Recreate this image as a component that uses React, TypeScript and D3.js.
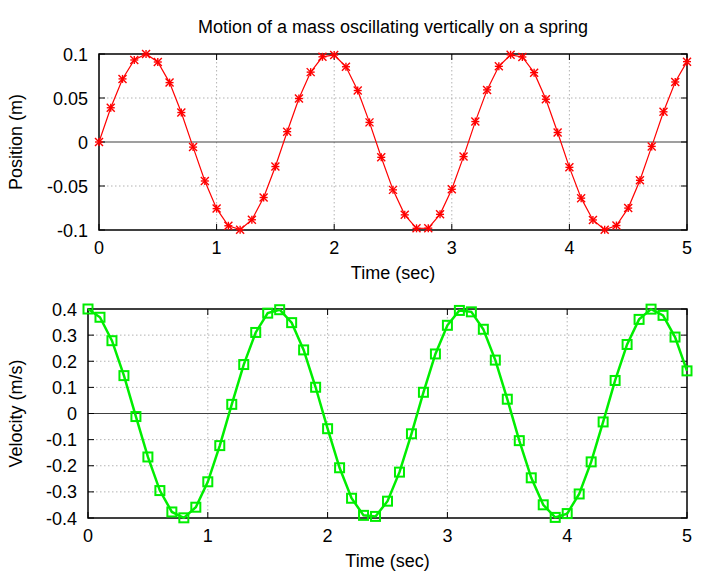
import React from "react";
import * as d3 from "d3";

const times = [0,0.1,0.2,0.3,0.4,0.5,0.6,0.7,0.8,0.9,1,1.1,1.2,1.3,1.4,1.5,1.6,1.7,1.8,1.9,2,2.1,2.2,2.3,2.4,2.5,2.6,2.7,2.8,2.9,3,3.1,3.2,3.3,3.4,3.5,3.6,3.7,3.8,3.9,4,4.1,4.2,4.3,4.4,4.5,4.6,4.7,4.8,4.9,5];
const position = [0,0.0389,0.0717,0.0932,0.1,0.0909,0.0675,0.0335,-0.0058,-0.0443,-0.0757,-0.0952,-0.0996,-0.0884,-0.0631,-0.0279,0.0117,0.0494,0.0794,0.0968,0.0989,0.0855,0.0585,0.0223,-0.0174,-0.0544,-0.0828,-0.0981,-0.0979,-0.0822,-0.0537,-0.0166,0.0232,0.0592,0.086,0.0991,0.0966,0.0788,0.0486,0.0108,-0.0288,-0.0638,-0.0886,-0.0997,-0.0949,-0.0751,-0.0435,-0.005,0.0343,0.0682,0.0913];
const velocity = [0.4,0.3684,0.2787,0.145,-0.0117,-0.1664,-0.295,-0.3769,-0.3993,-0.3587,-0.2614,-0.1229,0.035,0.1874,0.3102,0.3841,0.3973,0.3478,0.2434,0.1005,-0.0582,-0.2077,-0.3244,-0.3899,-0.3939,-0.3356,-0.2244,-0.0777,0.0812,0.2279,0.3376,0.3945,0.3891,0.3224,0.2044,0.0547,-0.1039,-0.2462,-0.3495,-0.3977,-0.3831,-0.308,-0.1852,-0.0323,0.1264,0.2642,0.3602,0.3995,0.3757,0.2926,0.1632];
const xTicks = [0,1,2,3,4,5];
const xTickLabels = ["0","1","2","3","4","5"];
const posTicks = [-0.1,-0.05,0,0.05,0.1];
const posTickLabels = ["-0.1","-0.05","0","0.05","0.1"];
const velTicks = [-0.4,-0.3,-0.2,-0.1,0,0.1,0.2,0.3,0.4];
const velTickLabels = ["-0.4","-0.3","-0.2","-0.1","0","0.1","0.2","0.3","0.4"];

const FONT = "'Liberation Sans', Arial, sans-serif";
const FS = 18;

type PanelProps = {
  left: number; right: number; top: number; bottom: number;
  values: number[]; yTicks: number[]; yLabels: string[]; yDomain: [number, number];
  yTitle: string; color: string; marker: "star" | "square"; lineWidth: number;
};

function Panel(p: PanelProps) {
  const x = d3.scaleLinear().domain([0, 5]).range([p.left, p.right]);
  const y = d3.scaleLinear().domain(p.yDomain).range([p.bottom, p.top]);
  const line = d3.line<number>().x((_, i) => x(times[i])).y((d) => y(d));
  const path = line(p.values) || "";
  const tl = 6;
  return (
    <g>
      {xTicks.filter((t) => t > 0 && t < 5).map((t) => (
        <line key={"gx" + t} x1={x(t)} x2={x(t)} y1={p.top} y2={p.bottom} stroke="#a0a0a0" strokeWidth={0.8} strokeDasharray="1.5,2.5" />
      ))}
      {p.yTicks.filter((t) => t !== 0 && t > p.yDomain[0] && t < p.yDomain[1]).map((t) => (
        <line key={"gy" + t} x1={p.left} x2={p.right} y1={y(t)} y2={y(t)} stroke="#a0a0a0" strokeWidth={0.8} strokeDasharray="1.5,2.5" />
      ))}
      <line x1={p.left} x2={p.right} y1={y(0)} y2={y(0)} stroke="#404040" strokeWidth={1.2} />
      {xTicks.map((t) => (
        <g key={"tx" + t}>
          <line x1={x(t)} x2={x(t)} y1={p.bottom} y2={p.bottom - tl} stroke="#000" strokeWidth={1} />
          <line x1={x(t)} x2={x(t)} y1={p.top} y2={p.top + tl} stroke="#000" strokeWidth={1} />
        </g>
      ))}
      {p.yTicks.map((t) => (
        <g key={"ty" + t}>
          <line x1={p.left} x2={p.left + tl} y1={y(t)} y2={y(t)} stroke="#000" strokeWidth={1} />
          <line x1={p.right} x2={p.right - tl} y1={y(t)} y2={y(t)} stroke="#000" strokeWidth={1} />
        </g>
      ))}
      <rect x={p.left} y={p.top} width={p.right - p.left} height={p.bottom - p.top} fill="none" stroke="#000" strokeWidth={1.5} />
      <path d={path} fill="none" stroke={p.color} strokeWidth={p.lineWidth} />
      {p.values.map((v, i) => {
        const cx = x(times[i]);
        const cy = y(v);
        if (p.marker === "square") {
          return <rect key={i} x={cx - 4.5} y={cy - 4.5} width={9} height={9} fill="none" stroke={p.color} strokeWidth={2} />;
        }
        const r = 4;
        return (
          <g key={i} stroke={p.color} strokeWidth={1.4}>
            <line x1={cx - r} x2={cx + r} y1={cy} y2={cy} />
            <line x1={cx} x2={cx} y1={cy - r} y2={cy + r} />
            <line x1={cx - r} x2={cx + r} y1={cy - r} y2={cy + r} />
            <line x1={cx - r} x2={cx + r} y1={cy + r} y2={cy - r} />
          </g>
        );
      })}
      {xTicks.map((t, i) => (
        <text key={"lx" + t} x={x(t)} y={p.bottom + 24} textAnchor="middle" fontSize={FS} fontFamily={FONT} fill="#000">{xTickLabels[i]}</text>
      ))}
      {p.yTicks.map((t, i) => (
        <text key={"ly" + t} x={p.left - 11} y={y(t) + 6.5} textAnchor="end" fontSize={FS} fontFamily={FONT} fill="#000">{p.yLabels[i]}</text>
      ))}
      <text x={(p.left + p.right) / 2} y={p.bottom + 49} textAnchor="middle" fontSize={FS} fontFamily={FONT} fill="#000">Time (sec)</text>
      <text transform={`translate(22,${(p.top + p.bottom) / 2}) rotate(-90)`} textAnchor="middle" fontSize={FS} fontFamily={FONT} fill="#000">{p.yTitle}</text>
    </g>
  );
}

export default function App() {
  return (
    <svg width={720} height={576} style={{ position: "absolute", left: 0, top: 0, background: "#fff" }}>
      <rect width={720} height={576} fill="#fff" />
      <text x={393} y={33} textAnchor="middle" fontSize={FS} fontFamily={FONT} fill="#000">Motion of a mass oscillating vertically on a spring</text>
      <Panel left={99} right={687} top={54} bottom={230} values={position} yTicks={posTicks} yLabels={posTickLabels} yDomain={[-0.1, 0.1]} yTitle="Position (m)" color="#ff0000" marker="star" lineWidth={1.2} />
      <Panel left={88} right={687} top={309} bottom={518} values={velocity} yTicks={velTicks} yLabels={velTickLabels} yDomain={[-0.4, 0.4]} yTitle="Velocity (m/s)" color="#00ee00" marker="square" lineWidth={2.5} />
    </svg>
  );
}
